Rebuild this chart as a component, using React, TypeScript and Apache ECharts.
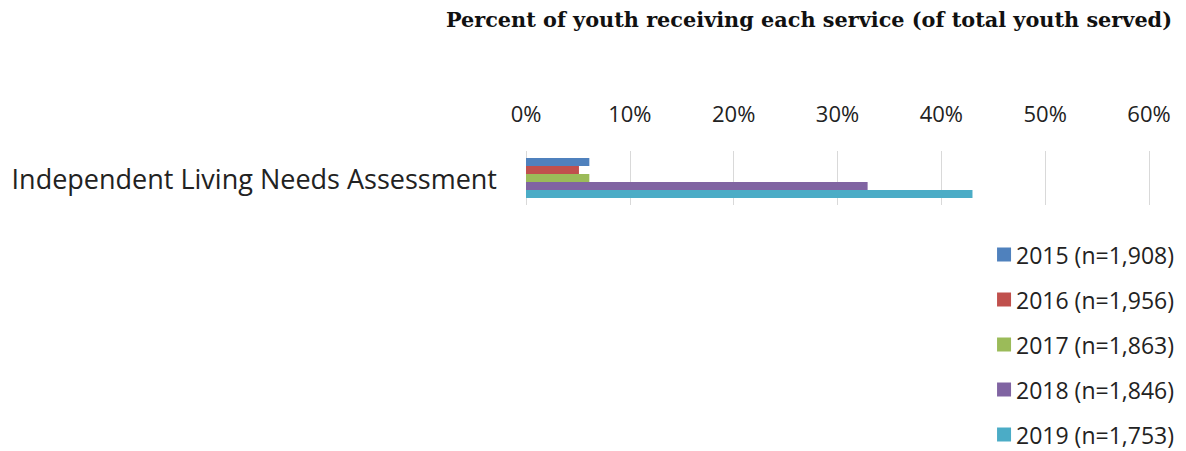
import React, { useEffect, useRef } from "react";
import * as echarts from "echarts";

const categories = ["Independent Living Needs Assessment"];
const seriesNames = [
  "2015 (n=1,908)",
  "2016 (n=1,956)",
  "2017 (n=1,863)",
  "2018 (n=1,846)",
  "2019 (n=1,753)",
];
const values2015 = [6.1];
const values2016 = [5.1];
const values2017 = [6.1];
const values2018 = [32.9];
const values2019 = [43.0];
const seriesValues = [values2015, values2016, values2017, values2018, values2019];
const colors = ["#4F81BD", "#C0504D", "#9BBB59", "#8064A2", "#4BACC6"];
const titleText = "Percent of youth receiving each service (of total youth served)";

export default function App() {
  const ref = useRef<HTMLDivElement>(null);
  useEffect(() => {
    document.body.style.margin = "0";
    const chart = echarts.init(ref.current!, null, { renderer: "svg" });
    const font = "'Open Sans', sans-serif";
    chart.setOption({
      animation: false,
      backgroundColor: "#ffffff",
      title: {
        text: titleText,
        right: 9,
        top: 4,
        textStyle: {
          fontFamily: "'DejaVu Serif', serif",
          fontWeight: "bold",
          fontSize: 20.8,
          color: "#111111",
        },
      },
      legend: {
        orient: "vertical",
        right: 7,
        top: 238,
        height: 210,
        itemWidth: 14,
        itemHeight: 14,
        itemGap: 22,
        icon: "rect",
        textStyle: { fontFamily: font, fontSize: 23, lineHeight: 23, color: "#222222" },
        data: seriesNames,
      },
      grid: { left: 526, right: 37, top: 151, height: 54, containLabel: false },
      xAxis: {
        type: "value",
        position: "top",
        min: 0,
        max: 60,
        interval: 10,
        axisLine: { show: false },
        axisTick: { show: false },
        splitLine: { show: true, lineStyle: { color: "#D9D9D9", width: 1 } },
        axisLabel: {
          formatter: "{value}%",
          margin: 27,
          fontFamily: font,
          fontSize: 22,
          color: "#222222",
        },
      },
      yAxis: {
        type: "category",
        data: categories,
        axisLine: { show: false },
        axisTick: { show: false },
        axisLabel: {
          margin: 29,
          fontFamily: font,
          fontSize: 27,
          color: "#222222",
        },
      },
      series: seriesNames.map((name, i) => ({
        name,
        type: "bar",
        data: seriesValues[i],
        barGap: "0%",
        barCategoryGap: "26%",
        itemStyle: { color: colors[i] },
      })),
    });
    return () => chart.dispose();
  }, []);
  return <div ref={ref} style={{ width: 1186, height: 451 }} />;
}
